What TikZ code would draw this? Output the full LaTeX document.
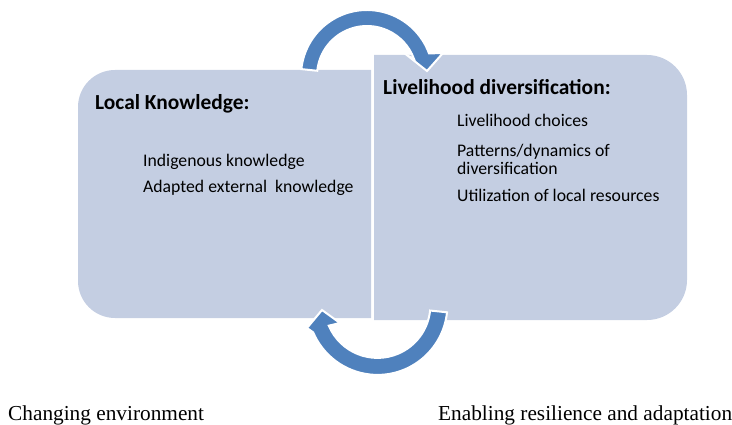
\documentclass[tikz,border=0pt]{standalone}
\usepackage{fontspec}
\setmainfont{Carlito}
\newfontfamily\timesfont{Liberation Serif}
\usetikzlibrary{calc}
\definecolor{boxfill}{RGB}{196,206,226}
\definecolor{arrowblue}{RGB}{79,129,189}
\begin{document}
\begin{tikzpicture}[x=1pt,y=1pt,
  bodytext/.style={font=\fontsize{17.7}{17.7}\selectfont, anchor=base west, inner sep=0pt},
  titletext/.style={font=\fontsize{21.4}{21.4}\selectfont\bfseries, anchor=base west, inner sep=0pt},
  captiontext/.style={font=\timesfont\fontsize{21.3}{21.3}\selectfont, anchor=base west, inner sep=0pt},
  arrowshape/.style={fill=arrowblue, draw=white, line width=2pt, line join=miter}]
\useasboundingbox (0,0) rectangle (732,424);
% boxes
\fill[boxfill] (371,106) -- (371,354) -- (115,354) arc[start angle=90,end angle=180,radius=37] -- (78,143) arc[start angle=180,end angle=270,radius=37] -- cycle;
\fill[boxfill] (374,104) -- (647,104) arc[start angle=-90,end angle=0,radius=40] -- (687,329) arc[start angle=0,end angle=90,radius=40] -- (374,369) -- cycle;
% top circular arrow
\coordinate (tc) at (367,348);
\draw[arrowshape] ($(tc)+(174:66)$) arc[start angle=174,end angle=20,radius=66] -- (443,371) -- (427,353) -- (408,368) -- ($(tc)+(20:50)$) arc[start angle=20,end angle=174,radius=50] -- cycle;
% bottom circular arrow
\coordinate (bc) at (377.5,119);
\draw[arrowshape] ($(bc)+(-6:69.9)$) arc[start angle=-6,end angle=-157,radius=69.9] -- (307,96) -- (322,114) -- (340,101) -- ($(bc)+(-157:52.9)$) arc[start angle=-157,end angle=-6,radius=52.9] -- cycle;
% texts
\node[titletext] (lk) at (95,314) {Local Knowledge:};
\node[bodytext] (ik) at (143,257.5) {Indigenous knowledge};
\node[bodytext] (ae) at (143,231) {Adapted external\ \ knowledge};
\node[titletext] (ld) at (383,329) {Livelihood diversification:};
\node[bodytext] (lc) at (457,297.3) {Livelihood choices};
\node[bodytext] (pd) at (457,267.3) {Patterns/dynamics of};
\node[bodytext] (dv) at (457,249.7) {diversification};
\node[bodytext] (ul) at (457,222.3) {Utilization of local resources};
\node[captiontext] (ce) at (8,4) {Changing environment};
\node[captiontext] (er) at (438,4) {Enabling resilience and adaptation};
\end{tikzpicture}
\end{document}
